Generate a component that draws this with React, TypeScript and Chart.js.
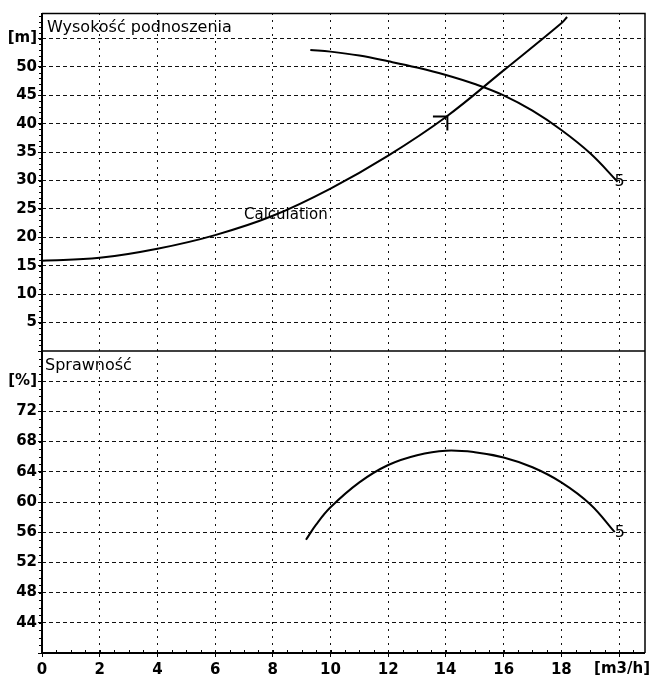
import React, { useEffect, useRef } from "react";
import { Chart, registerables } from "chart.js";

Chart.register(...registerables);

// Flow [m3/h] and head [m] of the system ("Calculation") curve
const systemQ = [0, 2, 4, 6, 8, 10, 12, 14, 16, 18, 18.2];
const systemH = [15.9, 16.4, 18.0, 20.4, 23.8, 28.6, 34.4, 41.2, 49.4, 57.7, 58.8];

// Pump head curve (impeller "5")
const pumpQ = [9.3, 10, 11, 12, 13, 14, 15, 16, 17, 18, 19, 19.95];
const pumpH = [53.0, 52.7, 52.0, 51.0, 49.9, 48.6, 47.0, 45.0, 42.3, 38.9, 34.8, 29.8];

// Operating point marker "1"
const opQ = [13.55, 14.05, 14.05];
const opH = [41.3, 41.3, 38.8];

// Efficiency curve [%]
const effQ = [9.15, 9.5, 10, 11, 12, 13, 14, 15, 16, 17, 18, 19, 19.85];
const effE = [55.0, 57.0, 59.3, 62.6, 64.9, 66.2, 66.8, 66.6, 65.9, 64.6, 62.6, 59.7, 56.0];

// Axis settings / labels
const xUnit = "[m3/h]";
const headUnit = "[m]";
const effUnit = "[%]";
const headTitle = "Wysokość podnoszenia";
const effTitle = "Sprawność";
const systemLabel = "Calculation";
const curveLabel = "5";

const TICK_FONT = { family: "'DejaVu Sans', sans-serif", size: 15, weight: "bold" as const };
const TEXT_FONT = "16px 'DejaVu Sans', sans-serif";

const pts = (xs: number[], ys: number[]) => xs.map((x, i) => ({ x, y: ys[i] }));

const framePlugin = {
  id: "frame",
  afterDatasetsDraw(chart: any) {
    const { ctx, chartArea: a, scales } = chart;
    const x = scales.x;
    const yH = scales.yH;
    const yE = scales.yE;
    ctx.save();
    ctx.strokeStyle = "#000";
    ctx.setLineDash([]);
    // outer frame
    ctx.lineWidth = 1.5;
    ctx.beginPath();
    ctx.moveTo(a.left, a.top + 0.5);
    ctx.lineTo(a.right, a.top + 0.5);
    ctx.lineTo(a.right, a.bottom);
    ctx.stroke();
    // divider
    ctx.lineWidth = 1.5;
    ctx.beginPath();
    ctx.moveTo(a.left, yH.bottom);
    ctx.lineTo(a.right, yH.bottom);
    ctx.stroke();
    // left & bottom axes
    ctx.lineWidth = 2;
    ctx.beginPath();
    ctx.moveTo(a.left, a.top);
    ctx.lineTo(a.left, a.bottom);
    ctx.lineTo(a.right, a.bottom);
    ctx.stroke();
    // minor ticks
    ctx.lineWidth = 1;
    ctx.beginPath();
    for (let v = 0.5; v < x.max; v += 0.5) {
      const px = Math.round(x.getPixelForValue(v)) + 0.5;
      ctx.moveTo(px, a.bottom);
      ctx.lineTo(px, a.bottom - 3);
    }
    for (let v = 1; v < yH.max; v += 1) {
      const py = Math.round(yH.getPixelForValue(v)) + 0.5;
      ctx.moveTo(a.left, py);
      ctx.lineTo(a.left - 3, py);
    }
    for (let v = 41; v < yE.max; v += 1) {
      const py = Math.round(yE.getPixelForValue(v)) + 0.5;
      ctx.moveTo(a.left, py);
      ctx.lineTo(a.left - 3, py);
    }
    ctx.stroke();

    // texts
    ctx.fillStyle = "#000";
    ctx.font = TEXT_FONT;
    ctx.textAlign = "left";
    ctx.textBaseline = "alphabetic";
    ctx.fillText(headTitle, a.left + 5, a.top + 19);
    ctx.fillText(effTitle, a.left + 3, yH.bottom + 19);
    ctx.font = "15px 'DejaVu Sans', sans-serif";
    ctx.textBaseline = "middle";
    ctx.fillText(systemLabel, x.getPixelForValue(7.0), yH.getPixelForValue(23.9));
    ctx.font = "16px 'DejaVu Sans', sans-serif";
    const pe = pumpQ.length - 1;
    ctx.fillText(curveLabel, x.getPixelForValue(pumpQ[pe]) - 3, yH.getPixelForValue(pumpH[pe]));
    const ee = effQ.length - 1;
    ctx.fillText(curveLabel, x.getPixelForValue(effQ[ee]), yE.getPixelForValue(effE[ee]) + 1);
    // x unit label, placed right of the 20 gridline like the original
    ctx.font = "bold 15px 'DejaVu Sans', sans-serif";
    ctx.textAlign = "right";
    ctx.textBaseline = "middle";
    ctx.fillText(xUnit, chart.width - 1, a.bottom + 16);
    ctx.restore();
  },
};

export default function App() {
  const ref = useRef<HTMLCanvasElement | null>(null);
  useEffect(() => {
    document.body.style.margin = "0";
    const canvas = ref.current;
    if (!canvas) return;
    const line = {
      borderColor: "#000",
      borderWidth: 2,
      pointRadius: 0,
      fill: false,
      tension: 0.4,
    };
    const gridColor = (hide: number[]) => (c: any) =>
      hide.includes(c.tick?.value) ? "rgba(0,0,0,0)" : "#111";
    const chart = new Chart(canvas, {
      type: "line",
      data: {
        datasets: [
          { ...line, label: systemLabel, data: pts(systemQ, systemH), yAxisID: "yH" },
          { ...line, label: "Pump", data: pts(pumpQ, pumpH), yAxisID: "yH" },
          { ...line, label: "Op", data: pts(opQ, opH), yAxisID: "yH", tension: 0 },
          { ...line, label: "Eff", data: pts(effQ, effE), yAxisID: "yE" },
        ],
      },
      options: {
        animation: false,
        responsive: false,
        layout: { padding: { top: 13, right: 6, left: 0, bottom: 0 } },
        plugins: { legend: { display: false }, tooltip: { enabled: false } },
        scales: {
          x: {
            type: "linear",
            min: 0,
            max: 20.9,
            ticks: {
              stepSize: 2,
              includeBounds: false,
              autoSkip: false,
              maxRotation: 0,
              color: "#000",
              font: TICK_FONT,
              padding: 4,
              callback: (v: any) => (v === 20 ? "" : String(v)),
            },
            grid: { color: gridColor([0]), lineWidth: 1, tickLength: 4, tickColor: "#000", tickBorderDash: [] },
            border: { display: false, dash: [2, 5] },
            afterFit: (s: any) => { s.height = 24; },
          },
          yE: {
            type: "linear",
            position: "left",
            stack: "panels",
            stackWeight: 302,
            min: 40,
            max: 80,
            ticks: {
              stepSize: 4,
              includeBounds: false,
              autoSkip: false,
              color: "#000",
              font: TICK_FONT,
              padding: 1,
              callback: (v: any) => (v === 76 ? effUnit : v === 40 || v === 80 ? "" : String(v)),
            },
            grid: { color: gridColor([40, 80]), lineWidth: 1, tickLength: 4, tickColor: "#000", tickBorderDash: [] },
            border: { display: false, dash: [4, 3] },
            afterFit: (s: any) => { s.width = 42; },
          },
          yH: {
            type: "linear",
            position: "left",
            stack: "panels",
            stackWeight: 338,
            min: 0,
            max: 59.5,
            ticks: {
              stepSize: 5,
              includeBounds: false,
              autoSkip: false,
              color: "#000",
              font: TICK_FONT,
              padding: 1,
              callback: (v: any) => (v === 55 ? headUnit : v === 0 ? "" : String(v)),
            },
            grid: { color: gridColor([0]), lineWidth: 1, tickLength: 4, tickColor: "#000", tickBorderDash: [] },
            border: { display: false, dash: [4, 3] },
            afterFit: (s: any) => { s.width = 42; },
          },
        },
      },
      plugins: [framePlugin],
    } as any);
    return () => chart.destroy();
  }, []);
  return <canvas ref={ref} width={651} height={677} style={{ display: "block" }} />;
}
